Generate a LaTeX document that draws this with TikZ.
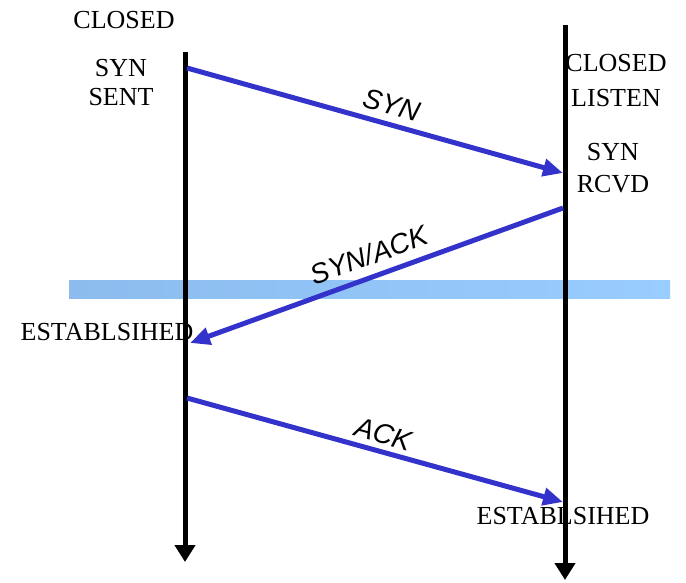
\documentclass[tikz,border=0pt]{standalone}
\usepackage{fontspec}
\setmainfont{Liberation Serif}
\setsansfont{Liberation Sans}
\usetikzlibrary{arrows.meta}

\definecolor{msgblue}{RGB}{51,51,204}
\definecolor{bandleft}{RGB}{140,188,238}
\definecolor{bandright}{RGB}{153,204,255}

\begin{document}
\begin{tikzpicture}[
  x=1pt, y=-1pt,
  state/.style={
    font=\fontsize{26}{29}\selectfont,
    align=center,
    inner sep=0pt
  },
  lifeline/.style={-{Triangle[length=17pt, width=20pt]}, line width=5pt, draw=black},
  msg/.style={-{Triangle[length=20pt, width=17pt]}, line width=5pt, draw=msgblue},
  msglabel/.style={font=\fontsize{28}{32}\selectfont\sffamily\itshape, sloped, inner sep=0pt}
]

\useasboundingbox (0,0) rectangle (686,582);

% band
\shade[left color=bandleft, right color=bandright] (69,280) rectangle (670,298);

% time lines
\coordinate (ltop) at (185,52);
\coordinate (lbot) at (185,562);
\coordinate (rtop) at (565,25);
\coordinate (rbot) at (565,580);
\draw[lifeline] (ltop) -- (lbot);
\draw[lifeline] (rtop) -- (rbot);

% states
\node[state] (lclosed) at (124,20) {CLOSED};
\node[state] (lsynsent) at (121,83) {SYN\\SENT};
\node[state] (rclosed) at (616,81) {CLOSED\\[6pt]LISTEN};
\node[state] (rsynrcvd) at (613,168) {SYN\\[3pt]RCVD};
\node[state] (lestab) at (107,332) {ESTABLSIHED};
\node[state] (restab) at (563,516) {ESTABLSIHED};

% segments
\coordinate (synA) at (187,68);
\coordinate (synB) at (563,173);
\coordinate (sackA) at (563,208);
\coordinate (sackB) at (190,343);
\coordinate (ackA) at (187,398);
\coordinate (ackB) at (563,502);

\draw[msg] (synA) -- node[msglabel, above=7pt, pos=0.53] (synlbl) {SYN} (synB);
\draw[msg] (sackA) -- node[msglabel, above=9pt, pos=0.5] (sacklbl) {SYN/ACK} (sackB);
\draw[msg] (ackA) -- node[msglabel, above=5pt, pos=0.51] (acklbl) {ACK} (ackB);

\end{tikzpicture}
\end{document}
